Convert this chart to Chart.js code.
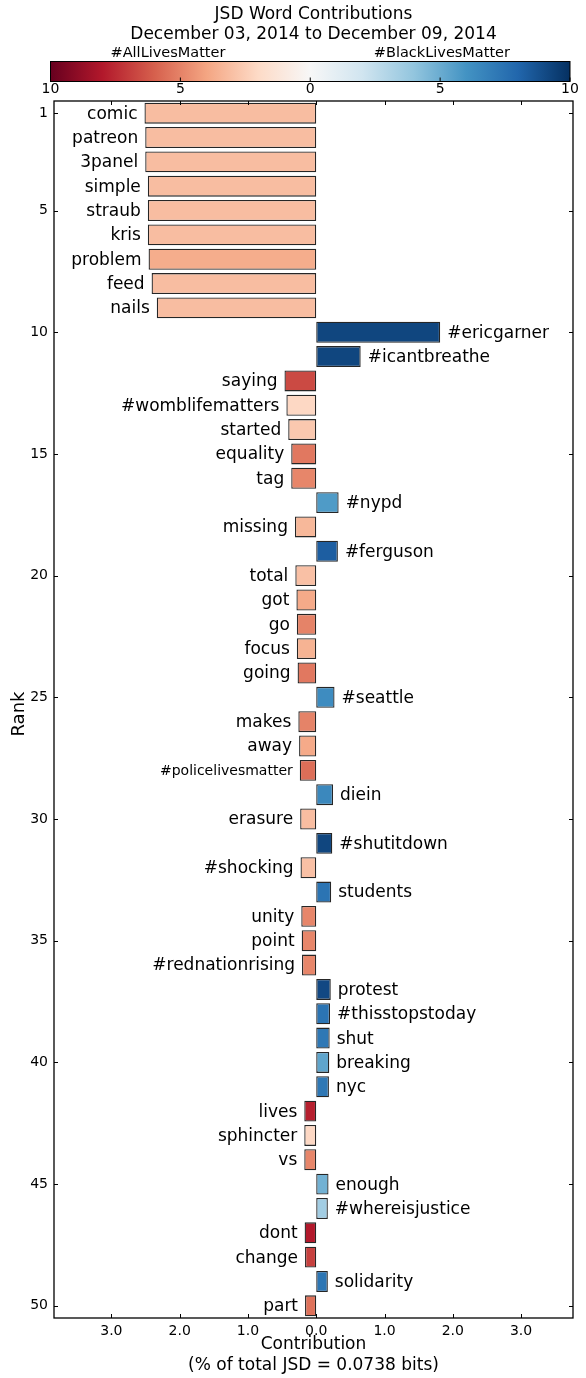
<!DOCTYPE html>
<html>
<head>
<meta charset="utf-8">
<title>JSD Word Contributions</title>
<script src="https://cdn.jsdelivr.net/npm/chart.js@4.4.1/dist/chart.umd.min.js"></script>
<style>
  html,body{margin:0;padding:0;background:#fff;}
  canvas{display:block;}
</style>
</head>
<body>
<canvas id="jsd" width="586" height="1378"></canvas>
<script>
// words ranked by contribution (rank 1 at top)
const words = ['comic','patreon','3panel','simple','straub','kris','problem','feed','nails',
  '#ericgarner','#icantbreathe','saying','#womblifematters','started','equality','tag','#nypd',
  'missing','#ferguson','total','got','go','focus','going','#seattle','makes','away',
  '#policelivesmatter','diein','erasure','#shutitdown','#shocking','students','unity','point',
  '#rednationrising','protest','#thisstopstoday','shut','breaking','nyc','lives','sphincter','vs',
  'enough','#whereisjustice','dont','change','solidarity','part'];
// % of total JSD, negative = #AllLivesMatter side
const contributions = [-2.515,-2.504,-2.504,-2.466,-2.466,-2.466,-2.455,-2.411,-2.335,
  1.815,0.651,-0.465,-0.437,-0.41,-0.366,-0.366,0.328,
  -0.312,0.317,-0.306,-0.29,-0.284,-0.284,-0.273,0.268,-0.262,-0.251,
  -0.241,0.246,-0.235,0.235,-0.23,0.219,-0.219,-0.213,
  -0.208,0.213,0.202,0.197,0.191,0.186,-0.175,-0.175,-0.175,
  0.18,0.17,-0.17,-0.164,0.17,-0.164];
// colour scale value (-10 red .. 10 blue)
const shades = [-3.1,-3.1,-3.1,-3.1,-3.1,-3.1,-3.7,-3.1,-3.1,
  9.2,9.2,-6.6,-2.1,-2.7,-5.3,-4.9,5.7,
  -3.3,8.3,-3.0,-3.8,-5.0,-3.5,-5.3,6.3,-5.0,-3.8,
  -5.6,6.5,-3.1,9.2,-3.0,7.4,-4.9,-4.9,
  -4.9,9.1,7.4,7.2,5.3,7.2,-7.8,-2.1,-4.9,
  4.8,3.5,-8.0,-6.9,7.3,-5.5];
const ranks = words.map((w, i) => i + 1);
const rankTicks = [1,5,10,15,20,25,30,35,40,45,50];
const xTicks = [-3,-2,-1,0,1,2,3];
const cbarTicks = [-10,-5,0,5,10];
const cbarNames = ['#AllLivesMatter', '#BlackLivesMatter'];
const titleLines = ['JSD Word Contributions', 'December 03, 2014 to December 09, 2014'];
const xTitle = ['Contribution', '(% of total JSD = 0.0738 bits)'];
const yTitle = 'Rank';

const FONT = 'DejaVu Sans';
const RDBU = ['#67001f','#b2182b','#d6604d','#f4a582','#fddbc7','#f7f7f7',
  '#d1e5f0','#92c5de','#4393c3','#2166ac','#053061'];

function hexRgb(h){
  return [1,3,5].map(k => parseInt(h.slice(k, k+2), 16));
}
function shadeColor(v){
  const t = Math.min(Math.max((v + 10) / 20, 0), 1) * (RDBU.length - 1);
  const i = Math.min(Math.floor(t), RDBU.length - 2);
  const f = t - i;
  const a = hexRgb(RDBU[i]), b = hexRgb(RDBU[i+1]);
  const c = a.map((x, k) => Math.round(x + (b[k] - x) * f));
  return `rgb(${c[0]},${c[1]},${c[2]})`;
}

const decor = {
  id: 'decor',
  afterDraw(chart){
    const ctx = chart.ctx;
    const area = chart.chartArea;
    const xs = chart.scales.x, ys = chart.scales.y;
    ctx.save();
    ctx.fillStyle = '#000';

    // title
    const cx = (area.left + area.right) / 2;
    ctx.font = `17px ${FONT}`;
    ctx.textAlign = 'center';
    ctx.textBaseline = 'middle';
    ctx.fillText(titleLines[0], cx, 15);
    ctx.fillText(titleLines[1], cx, 35);

    // y axis title
    ctx.save();
    ctx.translate(19, 714);
    ctx.rotate(-Math.PI / 2);
    ctx.font = `18px ${FONT}`;
    ctx.fillText(yTitle, 0, 0);
    ctx.restore();

    // colorbar
    const cb = {left: 50.5, right: 570, top: 61.5, bottom: 81.5};
    const grad = ctx.createLinearGradient(cb.left, 0, cb.right, 0);
    RDBU.forEach((c, i) => grad.addColorStop(i / (RDBU.length - 1), c));
    ctx.fillStyle = grad;
    ctx.fillRect(cb.left, cb.top, cb.right - cb.left, cb.bottom - cb.top);
    ctx.strokeStyle = '#000';
    ctx.lineWidth = 1;
    ctx.strokeRect(cb.left, cb.top, cb.right - cb.left, cb.bottom - cb.top);
    ctx.fillStyle = '#000';
    ctx.font = `14px ${FONT}`;
    ctx.textBaseline = 'middle';
    cbarTicks.forEach(v => {
      const px = cb.left + (v + 10) / 20 * (cb.right - cb.left);
      ctx.beginPath();
      ctx.moveTo(px, cb.bottom);
      ctx.lineTo(px, cb.bottom - 4);
      ctx.stroke();
      ctx.textAlign = 'center';
      ctx.fillText(String(Math.abs(v)), px, 89);
    });
    ctx.font = `14.5px ${FONT}`;
    ctx.textAlign = 'left';
    ctx.fillText(cbarNames[0], cb.left + 60, 53);
    ctx.textAlign = 'right';
    ctx.fillText(cbarNames[1], cb.right - 60, 53);

    // word labels beside the bars
    const meta = chart.getDatasetMeta(0);
    ctx.textBaseline = 'middle';
    meta.data.forEach((bar, i) => {
      const size = words[i].length > 16 ? 14 : 17;
      ctx.font = `${size}px ${FONT}`;
      if (contributions[i] < 0) {
        ctx.textAlign = 'right';
        ctx.fillText(words[i], bar.x - 7, bar.y + 1);
      } else {
        ctx.textAlign = 'left';
        ctx.fillText(words[i], bar.x + 7, bar.y + 1);
      }
    });

    // frame + inward ticks
    ctx.strokeStyle = '#000';
    ctx.lineWidth = 1.3;
    ctx.strokeRect(area.left, area.top, area.right - area.left, area.bottom - area.top);
    ctx.lineWidth = 1;
    ctx.beginPath();
    xTicks.forEach(v => {
      const px = Math.round(xs.getPixelForValue(v)) + 0.5;
      ctx.moveTo(px, area.bottom); ctx.lineTo(px, area.bottom - 4);
      ctx.moveTo(px, area.top); ctx.lineTo(px, area.top + 4);
    });
    rankTicks.forEach(r => {
      const py = Math.round(ys.getPixelForValue(r - 1)) + 0.5;
      ctx.moveTo(area.left, py); ctx.lineTo(area.left + 4, py);
      ctx.moveTo(area.right, py); ctx.lineTo(area.right - 4, py);
    });
    ctx.stroke();
    ctx.restore();
  }
};

new Chart(document.getElementById('jsd'), {
  type: 'bar',
  data: {
    labels: ranks,
    datasets: [{
      data: contributions,
      backgroundColor: shades.map(shadeColor),
      borderColor: '#262626',
      borderWidth: 1.3,
      borderSkipped: false,
      barPercentage: 0.86,
      categoryPercentage: 1
    }]
  },
  options: {
    indexAxis: 'y',
    responsive: false,
    animation: false,
    devicePixelRatio: 1,
    layout: {padding: {top: 101, right: 13, left: 0, bottom: 0}},
    plugins: {
      legend: {display: false},
      tooltip: {enabled: false},
      title: {display: false}
    },
    scales: {
      x: {
        type: 'linear',
        min: -3.84,
        max: 3.76,
        afterBuildTicks: s => { s.ticks = xTicks.map(v => ({value: v})); },
        afterFit: s => { s.height = 60; },
        grid: {display: false, drawTicks: false, tickLength: 0},
        border: {display: false},
        ticks: {
          color: '#000',
          font: {family: FONT, size: 14},
          padding: 5,
          maxRotation: 0,
          callback: v => Math.abs(v).toFixed(1)
        },
        title: {
          display: true,
          text: xTitle,
          color: '#000',
          font: {family: FONT, size: 17, lineHeight: 21 / 17},
          padding: {top: 0, bottom: 1.5}
        }
      },
      y: {
        type: 'category',
        afterFit: s => { s.width = 54; },
        grid: {display: false, drawTicks: false, tickLength: 0},
        border: {display: false},
        ticks: {
          color: '#000',
          autoSkip: false,
          font: {family: FONT, size: 14},
          padding: 6,
          callback: (v, i) => rankTicks.includes(ranks[i]) ? String(ranks[i]) : ''
        }
      }
    }
  },
  plugins: [decor]
});
</script>
</body>
</html>
